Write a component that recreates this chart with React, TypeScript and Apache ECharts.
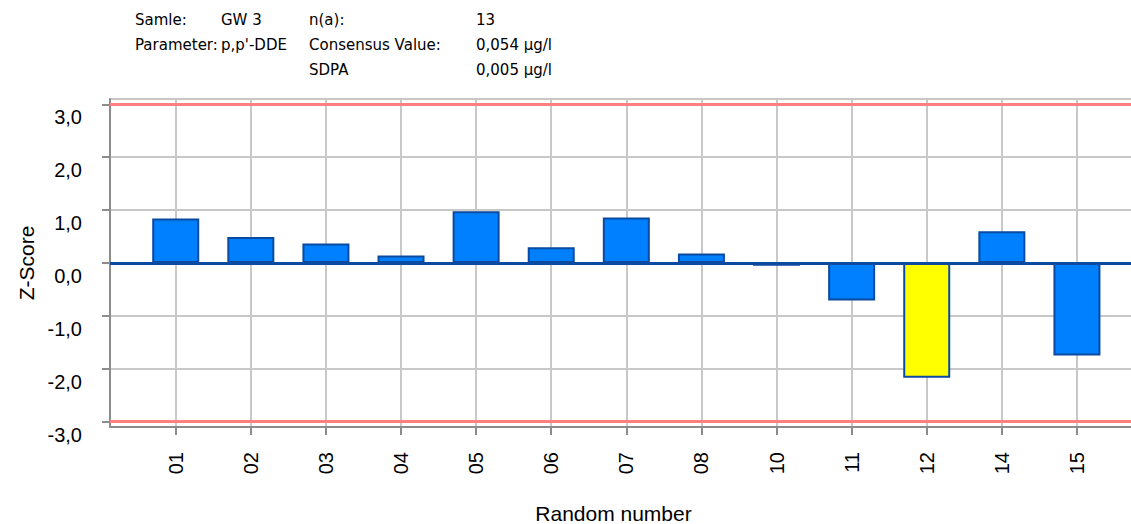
import React, { useEffect, useRef } from "react";
import * as echarts from "echarts";

const categories = ["01", "02", "03", "04", "05", "06", "07", "08", "10", "11", "12", "14", "15"];
const zScores = [0.84, 0.49, 0.37, 0.14, 0.98, 0.3, 0.86, 0.18, -0.05, -0.71, -2.17, 0.6, -1.75];
const highlighted = ["12"];
const yTicks = [-3, -2, -1, 0, 1, 2, 3];
const limits = [-3, 3];

const headerLabels = [
  ["Samle:", "GW 3", "n(a):", "13"],
  ["Parameter:", "p,p'-DDE", "Consensus Value:", "0,054 µg/l"],
  ["", "", "SDPA", "0,005 µg/l"],
];

const headerColX = [135, 221, 309, 476];
const headerRowY = [12, 37, 62];

export default function App() {
  const ref = useRef<HTMLDivElement>(null);

  useEffect(() => {
    if (!ref.current) return;
    const chart = echarts.init(ref.current, null, { renderer: "svg" });
    const idx = categories.map((_, i) => i);
    const grey = "#8c8c8c";
    const fmt = (v: number) => v.toFixed(1).replace(".", ",");

    const graphic: any[] = [];
    headerLabels.forEach((row, r) =>
      row.forEach((t, c) => {
        if (!t) return;
        graphic.push({
          type: "text",
          left: headerColX[c],
          top: headerRowY[r],
          style: {
            text: t,
            font: '15px "DejaVu Sans"',
            fill: "#000",
          },
        });
      })
    );

    chart.setOption({
      animation: false,
      backgroundColor: "#ffffff",
      graphic,
      grid: {
        left: 110,
        top: 99,
        right: -10,
        bottom: 97,
        outerBoundsMode: "none",
        containLabel: false,
        show: true,
        borderColor: "#c8c8c8",
        borderWidth: 2,
        backgroundColor: "transparent",
      },
      xAxis: {
        type: "value",
        min: -0.875,
        max: 12.853,
        name: "Random number",
        nameLocation: "middle",
        nameGap: 76,
        nameTextStyle: {
          fontFamily: "Liberation Sans",
          fontSize: 21,
          color: "#000",
          padding: [0, 24, 0, 0],
        },
        axisLine: { show: true, onZero: false, lineStyle: { color: grey, width: 2 } },
        axisTick: {
          show: true,
          length: 8,
          customValues: idx,
          lineStyle: { color: grey, width: 2 },
        },
        axisLabel: {
          customValues: idx,
          rotate: 90,
          margin: 25,
          fontFamily: "Liberation Sans",
          fontSize: 20,
          color: "#000",
          formatter: (v: number) => categories[Math.round(v)] ?? "",
        },
        splitLine: { show: true, lineStyle: { color: "#c8c8c8", width: 2 } },
      },
      yAxis: {
        type: "value",
        min: -3.1,
        max: 3.1,
        name: "Z-Score",
        nameLocation: "middle",
        nameGap: 72,
        nameTextStyle: {
          fontFamily: "Liberation Sans",
          fontSize: 21,
          color: "#000",
        },
        axisLine: { show: true, onZero: false, lineStyle: { color: grey, width: 2 } },
        axisTick: {
          show: true,
          length: 8,
          customValues: yTicks,
          lineStyle: { color: grey, width: 2 },
        },
        axisLabel: {
          customValues: yTicks,
          margin: 28,
          fontFamily: "Liberation Sans",
          fontSize: 20,
          color: "#000",
          verticalAlign: "top",
          lineHeight: 26,
          formatter: (v: number) => fmt(v),
        },
        splitLine: { show: true, lineStyle: { color: "#c8c8c8", width: 2 } },
      },
      series: [
        {
          type: "bar",
          barWidth: 47,
          data: zScores.map((v, i) => ({
            value: [i, v],
            itemStyle: {
              color: highlighted.includes(categories[i]) ? "#ffff00" : "#0080ff",
              borderColor: "#0a4aa0",
              borderWidth: 2,
            },
          })),
          markLine: {
            silent: true,
            symbol: "none",
            label: { show: false },
            data: [
              { yAxis: 0, lineStyle: { color: "#0a4aa0", width: 3, type: "solid" } },
              ...limits.map((l) => ({
                yAxis: l,
                lineStyle: { color: "#ff8080", width: 3, type: "solid" },
              })),
            ],
          },
        },
      ],
    });
    return () => chart.dispose();
  }, []);

  return (
    <div
      ref={ref}
      style={{ position: "absolute", left: 0, top: 0, width: 1131, height: 524, background: "#fff" }}
    />
  );
}
